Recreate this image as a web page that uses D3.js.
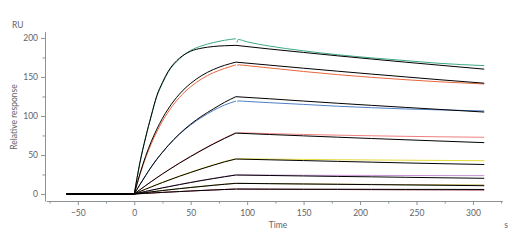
<!DOCTYPE html>
<html>
<head>
<meta charset="utf-8">
<script src="https://cdn.jsdelivr.net/npm/d3@7"></script>
<style>
  body { margin: 0; background: #fff; }
  svg text { font-family: Lato, "Open Sans", sans-serif; }
</style>
</head>
<body>
<svg id="chart" width="521" height="250"></svg>
<script>
// time points (s) of each phase
const baseTimes = [-60, 0];
const assocTimes = [0, 5, 10, 15, 20, 25, 30, 40, 50, 60, 70, 80, 90];
const fitDissocTimes = [90, 120, 150, 180, 210, 240, 270, 310];
const dataDissocTimes = [91, 92, 100, 120, 150, 180, 210, 240, 270, 310];

const dataColors = ["#3eaa80", "#e8663e", "#4f7fc6", "#f07f7f", "#e6dc3c", "#c68fd6", "#b4a84a", "#a3344e"];
const dataAssoc = [
  [0, 40, 72, 100, 125, 142, 156, 173, 184, 190, 194, 197, 199],
  [0, 24.6, 45.9, 64.1, 79.8, 93.4, 105, 123.7, 137.5, 147.8, 155.4, 160.9, 165.5],
  [0, 12, 23.5, 34.5, 44.5, 53.5, 62, 76.5, 88.5, 98.5, 107, 114, 119],
  [0, 5.3, 10.6, 15.8, 20.9, 25.8, 30.6, 39.8, 48.5, 56.8, 64.6, 71.8, 78.6],
  [0, 3.1, 6.2, 9.2, 12.1, 14.9, 17.6, 23, 28, 32.8, 37.3, 41.5, 45.2],
  [0, 1.6, 3.3, 4.9, 6.4, 7.9, 9.3, 12.2, 14.9, 17.5, 20, 22.3, 24.5],
  [0, 0.9, 1.8, 2.7, 3.6, 4.4, 5.3, 6.9, 8.4, 9.9, 11.3, 12.6, 13.8],
  [0, 0.4, 0.8, 1.2, 1.6, 2, 2.4, 3.1, 3.8, 4.5, 5.2, 5.8, 6.4]
];
const dataDissoc = [
  [194, 198, 195, 189.5, 183.5, 178.5, 174.5, 171, 167.5, 164.5],
  [164.5, 165.5, 164.5, 161.5, 157, 153, 149.5, 146.5, 143.8, 141],
  [118.5, 119.2, 118.6, 117, 114.8, 112.5, 110.6, 109, 107.8, 106.4],
  [78, 78.4, 78.2, 77.3, 76.3, 75.4, 74.6, 73.9, 73.3, 72.7],
  [44.8, 45.1, 45, 44.7, 44.3, 43.9, 43.6, 43.3, 43, 42.7],
  [24.2, 24.4, 24.4, 24.2, 24, 23.9, 23.8, 23.7, 23.6, 23.5],
  [13.5, 13.7, 13.6, 13.3, 12.9, 12.6, 12.3, 12, 11.8, 11.5],
  [6.3, 6.4, 6.3, 6.1, 5.9, 5.7, 5.5, 5.3, 5.2, 5.0]
];

// fitted curves (black)
const fitAssoc = [
  [0, 40, 72, 100, 126, 143, 157, 174, 183, 187, 189, 190, 190.5],
  [0, 25.8, 48.1, 67, 83.1, 97, 108.9, 128, 141.8, 152, 159.5, 164.9, 169],
  [0, 12, 23.5, 34.5, 44.5, 53.5, 62, 77, 89.5, 100, 109, 117.5, 124.7],
  [0, 5.4, 10.7, 15.8, 20.8, 25.7, 30.4, 39.5, 48, 56.2, 64, 71.2, 78],
  [0, 3.1, 6.1, 9, 11.9, 14.7, 17.4, 22.7, 27.6, 32.4, 36.9, 41.2, 44.8],
  [0, 1.6, 3.2, 4.8, 6.3, 7.8, 9.2, 12, 14.7, 17.3, 19.7, 22.1, 24.3],
  [0, 0.9, 1.8, 2.7, 3.5, 4.4, 5.2, 6.8, 8.3, 9.7, 11.1, 12.4, 13.6],
  [0, 0.4, 0.8, 1.2, 1.6, 2, 2.4, 3.1, 3.8, 4.5, 5.1, 5.7, 6.3]
];
const fitDissoc = [
  [190.5, 185.8, 181.4, 177.1, 173.0, 169.0, 165.1, 160.0],
  [169, 165.1, 161.2, 157.4, 153.7, 150.1, 146.5, 142],
  [124.7, 122, 119.1, 116.3, 113.6, 111, 108.4, 105],
  [78, 76.2, 74.5, 72.8, 71.1, 69.5, 67.9, 65.8],
  [44.8, 43.8, 42.8, 41.8, 40.8, 39.8, 38.9, 37.8],
  [24.3, 23.7, 23.1, 22.5, 22, 21.4, 20.8, 20.1],
  [13.6, 13.2, 12.8, 12.4, 12, 11.6, 11.2, 10.6],
  [6.3, 6.2, 6.1, 6.1, 6, 5.9, 5.9, 5.8]
];

const xMajor = [-50, 0, 50, 100, 150, 200, 250, 300];
const xMinor = [-75, -25, 25, 75, 125, 175, 225, 275, 325];
const yMajor = [0, 50, 100, 150, 200];
const yMinor = [25, 75, 125, 175];

const svg = d3.select("#chart");
const axisColor = "#8c9296";
const textColor = "#5f6468";

const x = d3.scaleLinear().domain([-78, 326]).range([46.2, 502.3]);
const y = d3.scaleLinear().domain([-9, 208]).range([201, 31.7]);

// axes
const gx = svg.append("g").attr("transform", "translate(0,201)");
gx.call(d3.axisBottom(x).tickValues(xMajor).tickSize(4).tickSizeOuter(0).tickPadding(5));
gx.append("g").call(d3.axisBottom(x).tickValues(xMinor).tickSize(2.5).tickFormat(""))
  .select(".domain").remove();

const gy = svg.append("g").attr("transform", "translate(45,0)");
gy.call(d3.axisLeft(y).tickValues(yMajor).tickSize(4).tickSizeOuter(0).tickPadding(3));
gy.append("g").call(d3.axisLeft(y).tickValues(yMinor).tickSize(2.5).tickFormat(""))
  .select(".domain").remove();

svg.selectAll(".domain, .tick line").attr("stroke", axisColor);
svg.selectAll(".tick text").attr("fill", textColor).style("font-size", "8.5px");

// labels
svg.append("text").attr("x", 12).attr("y", 28).attr("fill", textColor).style("font-size", "8.5px").text("RU");
svg.append("text").attr("transform", "translate(17,117) rotate(-90)").attr("text-anchor", "middle")
  .attr("fill", textColor).style("font-size", "8.5px").text("Relative response");
svg.append("text").attr("x", 278).attr("y", 228).attr("text-anchor", "middle")
  .attr("fill", textColor).style("font-size", "8.5px").text("Time");
svg.append("text").attr("x", 506).attr("y", 228).attr("text-anchor", "middle")
  .attr("fill", textColor).style("font-size", "8.5px").text("s");

const line = d3.line().x(d => x(d[0])).y(d => y(d[1])).curve(d3.curveMonotoneX);
const seg = (times, vals) => line(times.map((t, i) => [t, vals[i]]));

const plot = svg.append("g").attr("fill", "none");

// measured sensorgrams
dataColors.forEach((c, i) => {
  const d = seg(baseTimes, [0, 0]) + seg(assocTimes, dataAssoc[i]) + seg(dataDissocTimes, dataDissoc[i]);
  plot.append("path").attr("d", d).attr("stroke", c).attr("stroke-width", 1);
});

// global fit
fitAssoc.forEach((a, i) => {
  const d = seg(baseTimes, [0, 0]) + seg(assocTimes, a) + seg(fitDissocTimes, fitDissoc[i]);
  plot.append("path").attr("d", d).attr("stroke", "#000").attr("stroke-width", 1);
});
</script>
</body>
</html>
